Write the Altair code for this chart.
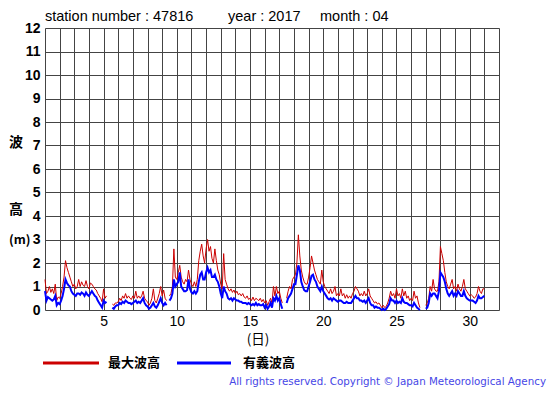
import altair as alt
import pandas as pd

# sampling: every 0.1 day from day 1.0 to 31.0
max_wave = [
    1.3, 0.7, 0.8, 1.0, 0.75, 0.9, 0.7, 1.1, 0.4, 0.55,   # day 1
    0.5, 0.7, 1.0, 1.4, 2.1, 1.8, 1.6, 1.4, 1.2, 1.0,     # day 2
    1.1, 0.9, 1.0, 1.3, 1.0, 1.2, 1.05, 1.0, 1.25, 1.0,   # day 3
    0.9, 1.15, 1.1, 1.0, 0.9, 0.85, 0.7, 0.6, 0.5, 0.35,  # day 4
    0.9, 0.5, 0.6, None, 0.6, None, 0.25, 0.2, 0.3, 0.3,  # day 5
    0.35, 0.5, 0.4, 0.6, 0.5, 0.7, 0.5, 0.6, 0.5, 0.45,   # day 6
    0.6, 0.5, 0.8, 0.5, 0.6, 0.5, 0.6, 0.8, 0.5, 0.4,     # day 7
    0.35, 0.2, 0.3, 0.5, 0.9, 0.4, 0.3, 0.5, 0.7, 1.0,    # day 8
    0.6, 0.85, 0.5, 0.4, None, 0.6, 0.7, 1.0, 2.6, 1.4,   # day 9
    1.3, 1.6, 1.9, 1.4, 1.2, 1.1, 1.3, 1.2, 1.7, 1.3,     # day 10
    1.1, 1.0, 1.2, 1.0, 1.3, 2.1, 2.5, 2.8, 2.3, 2.0,     # day 11
    2.6, 3.0, 2.5, 2.7, 2.2, 2.0, 2.6, 2.1, 1.7, 1.5,     # day 12
    1.1, 0.9, 2.4, 1.3, 1.1, 0.9, 0.8, 0.9, 0.75, 0.85,   # day 13
    0.7, 0.8, 0.65, 0.7, 0.6, 0.7, 0.55, 0.5, 0.6, 0.45,  # day 14
    0.5, 0.4, 0.55, 0.4, 0.5, 0.45, 0.4, 0.5, 0.35, 0.45, # day 15
    0.3, 0.4, 0.2, 0.35, 0.5, 0.3, 1.0, 0.6, 1.0, 0.7,    # day 16
    0.8, 0.5, 0.3, None, None, 0.5, 0.8, 1.0, 0.9, 1.3,   # day 17
    1.4, 1.5, 2.0, 3.2, 2.3, 1.7, 1.4, 1.2, 1.1, 1.1,     # day 18
    1.4, 1.8, 2.3, 2.0, 1.7, 1.5, 1.3, 1.2, 1.1, 1.7,     # day 19
    1.2, 1.0, 0.9, 0.8, 0.7, 0.9, 0.7, 0.8, 1.0, 0.6,     # day 20
    0.7, 0.6, 0.9, 0.6, 0.7, 0.5, 0.65, 0.5, 0.6, 0.5,    # day 21
    0.7, 0.8, 1.0, 0.9, 0.8, 0.6, 0.7, 0.6, 0.8, 0.6,     # day 22
    0.7, 0.9, 0.6, 0.5, 0.4, 0.3, 0.35, 0.25, 0.3, 0.2,   # day 23
    0.1, 0.2, 0.1, 0.15, 0.3, 0.5, 0.8, 0.6, 0.7, 0.5,    # day 24
    0.9, 0.6, 0.7, 0.5, 0.9, 0.6, 0.8, 0.5, 0.6, 0.4,     # day 25
    0.5, 0.4, 0.8, 0.5, 0.6, 0.3, 0.1, None, None, None,  # day 26
    0.2, 0.3, 0.5, 1.0, 0.8, 1.3, 0.9, 0.8, 0.8, 1.2,     # day 27
    2.7, 2.4, 2.1, 1.6, 1.2, 1.0, 0.9, 1.1, 1.3, 0.9,     # day 28
    1.0, 0.8, 1.1, 0.9, 0.8, 1.0, 1.3, 0.9, 0.8, 0.7,     # day 29
    0.6, 0.65, 0.6, 0.5, 0.55, 0.7, 1.0, 0.8, 0.7, 0.9,   # day 30
    0.9,                                                  # day 31
]
sig_wave = [
    0.8, 0.4, 0.55, 0.5, 0.45, 0.4, 0.45, 0.6, 0.2, 0.3,
    0.25, 0.4, 0.6, 0.9, 1.3, 1.15, 1.05, 1.0, 0.8, 0.7,
    0.65, 0.6, 0.7, 0.7, 0.65, 0.75, 0.7, 0.6, 0.75, 0.65,
    0.6, 0.7, 0.8, 0.7, 0.6, 0.55, 0.4, 0.3, 0.2, 0.1,
    0.4, 0.3, 0.35, None, 0.35, None, 0.1, 0.05, 0.15, 0.2,
    0.2, 0.3, 0.25, 0.35, 0.3, 0.4, 0.35, 0.3, 0.3, 0.25,
    0.3, 0.35, 0.4, 0.3, 0.35, 0.3, 0.4, 0.5, 0.3, 0.2,
    0.15, 0.05, 0.1, 0.2, 0.3, 0.15, 0.1, 0.2, 0.35, 0.5,
    0.3, 0.2, 0.3, 0.2, None, 0.4, 0.5, 0.7, 1.3, 1.0,
    1.1, 1.2, 1.6, 1.0, 0.9, 0.8, 0.8, 0.85, 1.3, 0.9,
    0.75, 0.7, 0.8, 0.7, 0.8, 1.2, 1.5, 1.6, 1.3, 1.3,
    1.6, 1.8, 1.6, 1.7, 1.4, 1.4, 1.5, 1.3, 1.2, 1.0,
    0.7, 0.5, 1.0, 0.8, 0.7, 0.5, 0.45, 0.5, 0.4, 0.5,
    0.45, 0.4, 0.4, 0.35, 0.35, 0.3, 0.3, 0.3, 0.25, 0.3,
    0.25, 0.2, 0.25, 0.2, 0.3, 0.2, 0.25, 0.2, 0.2, 0.25,
    0.1, 0.2, 0.05, 0.15, 0.3, 0.1, 0.5, 0.4, 0.6, 0.4,
    0.5, 0.25, 0.05, None, None, 0.3, 0.5, 0.6, 0.7, 0.9,
    1.1, 1.1, 1.5, 1.9, 1.7, 1.2, 1.0, 0.85, 0.8, 0.8,
    1.0, 1.2, 1.45, 1.5, 1.3, 1.2, 1.0, 0.9, 0.8, 1.0,
    0.8, 0.7, 0.6, 0.5, 0.45, 0.5, 0.4, 0.5, 0.45, 0.4,
    0.35, 0.4, 0.4, 0.35, 0.3, 0.3, 0.35, 0.3, 0.3, 0.3,
    0.4, 0.5, 0.6, 0.5, 0.5, 0.4, 0.4, 0.35, 0.4, 0.3,
    0.4, 0.5, 0.3, 0.2, 0.2, 0.1, 0.15, 0.1, 0.1, 0.05,
    0.0, 0.05, 0.0, 0.05, 0.15, 0.25, 0.5, 0.4, 0.4, 0.3,
    0.4, 0.3, 0.35, 0.3, 0.5, 0.35, 0.3, 0.3, 0.25, 0.2,
    0.2, 0.15, 0.3, 0.2, 0.1, 0.05, 0.0, None, None, None,
    0.05, 0.1, 0.3, 0.7, 0.6, 0.7, 0.7, 0.6, 0.5, 0.8,
    1.6, 1.5, 1.4, 1.2, 0.9, 0.7, 0.6, 0.7, 0.8, 0.6,
    0.7, 0.6, 0.8, 0.7, 0.6, 0.6, 0.8, 0.6, 0.5, 0.45,
    0.4, 0.4, 0.4, 0.35, 0.3, 0.4, 0.6, 0.5, 0.5, 0.55,
    0.6,
]
days = [round(1.0 + i / 10, 1) for i in range(len(max_wave))]

y_ticks = list(range(0, 13))
x_grid = list(range(1, 33))

df = pd.DataFrame({"day": days, "最大波高": max_wave, "有義波高": sig_wave})

W, H = 454, 282
FONT = "Liberation Sans"
JFONT = "Noto Sans CJK JP"

x_scale = alt.Scale(domain=[1, 32], nice=False, zero=False)
y_scale = alt.Scale(domain=[0, 12], nice=False)

x_axis = alt.Axis(values=x_grid, grid=True, gridColor="#444", gridOpacity=1, gridWidth=1,
                  ticks=False, domain=False, labelFont=FONT, labelFontSize=14,
                  labelColor="black", labelPadding=4, labelOverlap=False, labelFlush=False,
                  labelExpr="datum.value % 5 == 0 ? datum.label : ''")
y_axis = alt.Axis(values=y_ticks, grid=True, gridColor="#444", gridOpacity=1, gridWidth=1,
                  ticks=False, domain=False, labelFont=FONT, labelFontSize=14,
                  labelFontWeight="bold", labelColor="black", labelPadding=5,
                  labelOverlap=False, labelFlush=False)

red = alt.Chart(df).mark_line(color="#cc0000", strokeWidth=1).encode(
    x=alt.X("day:Q", scale=x_scale, title=None, axis=x_axis),
    y=alt.Y("最大波高:Q", scale=y_scale, title=None, axis=y_axis),
)
blue = alt.Chart(df).mark_line(color="#0000ff", strokeWidth=2).encode(
    x=alt.X("day:Q", scale=x_scale, title=None, axis=x_axis),
    y=alt.Y("有義波高:Q", scale=y_scale, title=None, axis=y_axis),
)

one = pd.DataFrame({"a": [0]})

def txt(text, px, py, size=13, weight="normal", font=FONT, align="left", color="black", baseline="middle"):
    return alt.Chart(one).mark_text(
        text=text, font=font, fontSize=size, fontWeight=weight, align=align,
        baseline=baseline, color=color,
    ).encode(x=alt.value(px - 45), y=alt.value(py - 28))

def rule(x1, x2, py, color):
    return alt.Chart(one).mark_rule(color=color, strokeWidth=3).encode(
        x=alt.value(x1 - 45), x2=alt.value(x2 - 45), y=alt.value(py - 28))

texts = [
    txt("station number : 47816", 45, 17, size=14.5),
    txt("year : 2017", 228, 17, size=14.5),
    txt("month : 04", 320, 17, size=14.5),
    txt("波", 16, 143, size=14, weight="bold", font=JFONT, align="center"),
    txt("高", 16, 210, size=14, weight="bold", font=JFONT, align="center"),
    txt("(m)", 9, 240, size=12.5, weight="bold", font=JFONT, align="left"),
    txt("(日)", 258, 340, size=13.5, font=JFONT, align="center"),
    rule(43, 99, 363, "#cc0000"),
    txt("最大波高", 108, 363, size=13, weight="bold", font=JFONT),
    rule(177, 231, 363, "#0000ff"),
    txt("有義波高", 243, 363, size=13, weight="bold", font=JFONT),
    txt("All rights reserved. Copyright © Japan Meteorological Agency", 546, 382,
        size=10.3, font="DejaVu Sans", align="right", color="#4646e6"),
]

chart = alt.layer(red, blue, *texts).properties(
    width=W, height=H,
    autosize=alt.AutoSizeParams(type="none"),
    padding={"left": 37, "top": 20, "right": 48, "bottom": 77},
).configure_view(stroke="black", strokeWidth=1.5).configure(background="white")

chart.save("out.html", embed_options={"renderer": "svg", "actions": False})
